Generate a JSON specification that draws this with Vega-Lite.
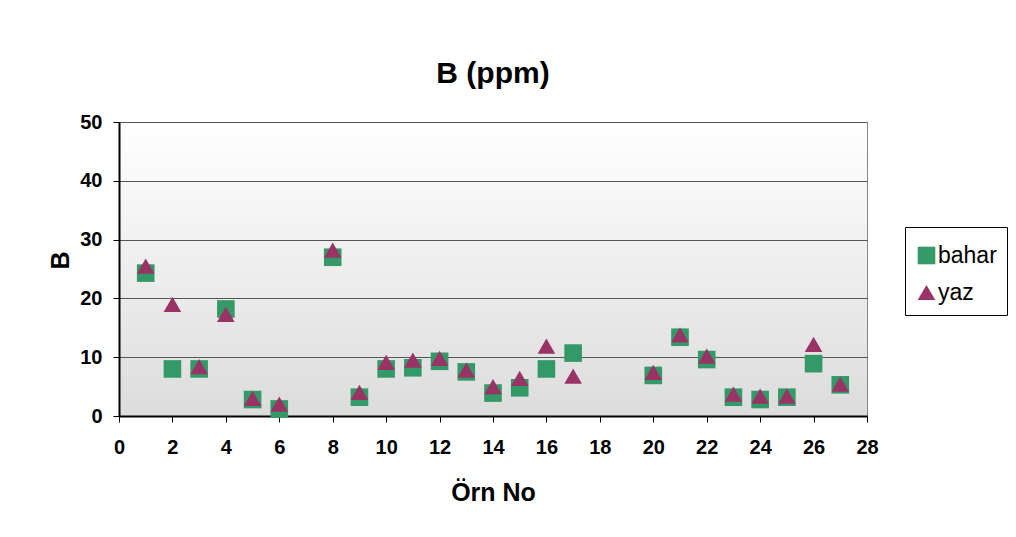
{
  "$schema": "https://vega.github.io/schema/vega-lite/v6.json",
  "width": 748,
  "height": 294,
  "autosize": {"type": "none"},
  "padding": {"left": 119, "top": 122, "right": 149, "bottom": 121},
  "background": "white",
  "title": {"text": "B (ppm)", "fontSize": 30, "fontWeight": "bold", "font": "Liberation Sans", "baseline": "alphabetic", "offset": -1, "anchor": "middle", "frame": "group", "color": "black"},
  "data": {
    "values": [
      {"no": 1, "seri": "bahar", "B": 24.3},
      {"no": 2, "seri": "bahar", "B": 8.0},
      {"no": 3, "seri": "bahar", "B": 8.0},
      {"no": 4, "seri": "bahar", "B": 18.2},
      {"no": 5, "seri": "bahar", "B": 2.8},
      {"no": 6, "seri": "bahar", "B": 1.2},
      {"no": 8, "seri": "bahar", "B": 27.0},
      {"no": 9, "seri": "bahar", "B": 3.2},
      {"no": 10, "seri": "bahar", "B": 8.0},
      {"no": 11, "seri": "bahar", "B": 8.2},
      {"no": 12, "seri": "bahar", "B": 9.3},
      {"no": 13, "seri": "bahar", "B": 7.5},
      {"no": 14, "seri": "bahar", "B": 3.9},
      {"no": 15, "seri": "bahar", "B": 4.8},
      {"no": 16, "seri": "bahar", "B": 8.0},
      {"no": 17, "seri": "bahar", "B": 10.7},
      {"no": 20, "seri": "bahar", "B": 6.9},
      {"no": 21, "seri": "bahar", "B": 13.4},
      {"no": 22, "seri": "bahar", "B": 9.6},
      {"no": 23, "seri": "bahar", "B": 3.2},
      {"no": 24, "seri": "bahar", "B": 2.8},
      {"no": 25, "seri": "bahar", "B": 3.2},
      {"no": 26, "seri": "bahar", "B": 8.9},
      {"no": 27, "seri": "bahar", "B": 5.3},
      {"no": 1, "seri": "yaz", "B": 25.5},
      {"no": 2, "seri": "yaz", "B": 19.0},
      {"no": 3, "seri": "yaz", "B": 8.4},
      {"no": 4, "seri": "yaz", "B": 17.3},
      {"no": 5, "seri": "yaz", "B": 3.0},
      {"no": 6, "seri": "yaz", "B": 2.0},
      {"no": 8, "seri": "yaz", "B": 28.2},
      {"no": 9, "seri": "yaz", "B": 4.0},
      {"no": 10, "seri": "yaz", "B": 9.1},
      {"no": 11, "seri": "yaz", "B": 9.5},
      {"no": 12, "seri": "yaz", "B": 9.8},
      {"no": 13, "seri": "yaz", "B": 7.8},
      {"no": 14, "seri": "yaz", "B": 5.0},
      {"no": 15, "seri": "yaz", "B": 6.4},
      {"no": 16, "seri": "yaz", "B": 11.9},
      {"no": 17, "seri": "yaz", "B": 6.8},
      {"no": 20, "seri": "yaz", "B": 7.4},
      {"no": 21, "seri": "yaz", "B": 13.8},
      {"no": 22, "seri": "yaz", "B": 10.2},
      {"no": 23, "seri": "yaz", "B": 3.7},
      {"no": 24, "seri": "yaz", "B": 3.4},
      {"no": 25, "seri": "yaz", "B": 3.4},
      {"no": 26, "seri": "yaz", "B": 12.2},
      {"no": 27, "seri": "yaz", "B": 5.4}
    ]
  },
  "mark": {"type": "point", "filled": true, "opacity": 1, "size": 310, "strokeWidth": 0},
  "encoding": {
    "x": {
      "field": "no", "type": "quantitative",
      "scale": {"domain": [0, 28], "nice": false, "zero": false},
      "axis": {"title": "Örn No", "values": [0,2,4,6,8,10,12,14,16,18,20,22,24,26,28], "grid": false, "titleY": 84, "titleBaseline": "alphabetic", "labelPadding": 15, "labelFlush": false, "labelOverlap": false}
    },
    "y": {
      "field": "B", "type": "quantitative",
      "scale": {"domain": [0, 50], "nice": false},
      "axis": {"title": "B", "values": [0,10,20,30,40,50], "grid": true, "titleX": -51, "titleY": 138, "titleBaseline": "alphabetic", "titleAngle": 270, "labelPadding": 11, "labelFlush": false}
    },
    "color": {
      "field": "seri", "type": "nominal",
      "scale": {"domain": ["bahar", "yaz"], "range": ["#339966", "#993366"]},
      "legend": {"title": " ", "orient": "none", "legendX": 786, "legendY": 105}
    },
    "shape": {
      "field": "seri", "type": "nominal",
      "scale": {"domain": ["bahar", "yaz"], "range": ["square", "triangle-up"]},
      "legend": {"title": " ", "orient": "none", "legendX": 786, "legendY": 105}
    },
    "order": {"field": "seri", "type": "nominal"}
  },
  "config": {
    "view": {
      "stroke": "#888888",
      "strokeWidth": 1,
      "fill": {"gradient": "linear", "x1": 0, "y1": 0, "x2": 0, "y2": 1, "stops": [{"offset": 0, "color": "#ffffff"}, {"offset": 1, "color": "#dcdcdc"}]}
    },
    "axis": {
      "labelFont": "Liberation Sans", "labelFontSize": 20, "labelFontWeight": "bold", "labelColor": "black",
      "titleFont": "Liberation Sans", "titleFontSize": 25, "titleFontWeight": "bold", "titleColor": "black",
      "domainColor": "black", "domainWidth": 2, "tickColor": "black", "tickSize": 6, "tickWidth": 1,
      "gridColor": "#555555", "gridWidth": 1, "gridOpacity": 1
    },
    "legend": {
      "strokeColor": "black", "strokeWidth": 1, "fillColor": "white", "padding": 10,
      "labelFont": "Liberation Sans", "labelFontSize": 23, "labelColor": "black",
      "titleFontSize": 1, "titlePadding": 6,
      "symbolSize": 310, "symbolStrokeWidth": 0, "labelOffset": 0, "rowPadding": 13
    }
  }
}
